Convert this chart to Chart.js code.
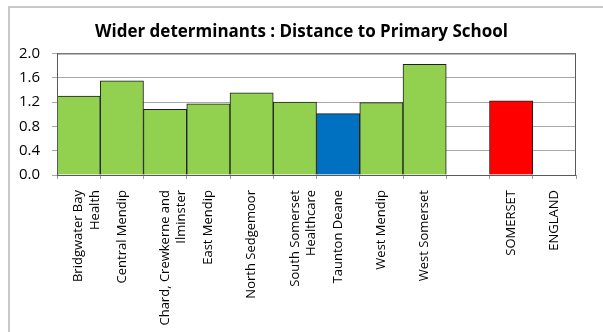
<!DOCTYPE html>
<html>
<head>
<meta charset="utf-8">
<script src="https://cdn.jsdelivr.net/npm/chart.js@4.4.0/dist/chart.umd.min.js"></script>
<style>
    html, body { margin: 0; padding: 0; background: #fff; }
    .frame {
        position: absolute;
        left: 8px;
        top: 6px;
        width: 620px;
        height: 340px;
        border-left: 2px solid #c8c8c8;
        border-top: 2px solid #c8c8c8;
    }
    .wrap { position: absolute; left: 0; top: 0; width: 603px; height: 332px; }
</style>
</head>
<body>
<div class="frame"></div>
<div class="wrap"><canvas id="schoolChart" width="603" height="332"></canvas></div>
<script>
// Localities (multi-line names wrap like the axis labels), blank slot, then county and national
const areas = [
    ['Bridgwater Bay', 'Health'],
    'Central Mendip',
    ['Chard, Crewkerne and', 'Ilminster'],
    'East Mendip',
    'North Sedgemoor',
    ['South Somerset', 'Healthcare'],
    'Taunton Deane',
    'West Mendip',
    'West Somerset',
    '',
    'SOMERSET',
    'ENGLAND'
];
const distance = [1.30, 1.55, 1.08, 1.17, 1.35, 1.20, 1.01, 1.19, 1.82, null, 1.22, null];
const yTicks = [0.0, 0.4, 0.8, 1.2, 1.6, 2.0];

const highlightArea = 'Taunton Deane';
const countyArea = 'SOMERSET';

function barColour(name) {
    if (name === highlightArea) return '#0070C0';
    if (name === countyArea) return '#FF0000';
    return '#92D050';
}

// Box round the plot area
const plotBox = {
    id: 'plotBox',
    afterDatasetsDraw(chart) {
        const a = chart.chartArea;
        const ctx = chart.ctx;
        ctx.save();
        ctx.strokeStyle = '#5a5a5a';
        ctx.lineWidth = 1;
        ctx.strokeRect(a.left + 0.5, a.top + 0.5, a.right - a.left - 1, a.bottom - a.top);
        ctx.restore();
    }
};

const Charts = {
    init() {
        if (typeof Chart === 'undefined') {
            setTimeout(() => this.init(), 100);
            return;
        }
        this.createDistanceChart();
    },

    createDistanceChart() {
        const ctx = document.getElementById('schoolChart');
        const font = "'Open Sans', 'Noto Sans', sans-serif";

        new Chart(ctx, {
            type: 'bar',
            data: {
                labels: areas,
                datasets: [{
                    data: distance,
                    backgroundColor: areas.map(barColour),
                    borderColor: '#1e1e1e',
                    borderWidth: 1,
                    barPercentage: 1.0,
                    categoryPercentage: 1.0
                }]
            },
            options: {
                responsive: false,
                animation: false,
                layout: {
                    padding: 0
                },
                plugins: {
                    legend: { display: false },
                    tooltip: { enabled: false },
                    title: {
                        display: true,
                        text: 'Wider determinants : Distance to Primary School',
                        color: '#000',
                        font: { family: font, size: 17, weight: 'bold', lineHeight: 1.2 },
                        padding: { top: 22, bottom: 11 }
                    }
                },
                scales: {
                    x: {
                        grid: {
                            offset: true,
                            drawOnChartArea: false,
                            color: '#9a9a9a',
                            tickLength: 4
                        },
                        border: { color: '#8a8a8a' },
                        ticks: {
                            autoSkip: false,
                            minRotation: 90,
                            maxRotation: 90,
                            padding: 11,
                            color: '#000',
                            font: { family: font, size: 13, lineHeight: 1.28 }
                        },
                        afterFit(scale) {
                            scale.height = 157;
                        }
                    },
                    y: {
                        min: 0,
                        max: 2.0,
                        afterBuildTicks(scale) {
                            scale.ticks = yTicks.map(v => ({ value: v }));
                        },
                        grid: {
                            color: '#a8a8a8',
                            tickLength: 5
                        },
                        border: { color: '#5a5a5a' },
                        ticks: {
                            padding: 12,
                            color: '#000',
                            font: { family: font, size: 15 },
                            callback: v => v.toFixed(1)
                        },
                        afterFit(scale) {
                            scale.width = 57;
                        }
                    },
                    // empty right-hand axis keeps the margin beside the plot
                    spacer: {
                        type: 'linear',
                        position: 'right',
                        grid: { display: false },
                        border: { display: false },
                        ticks: { display: false },
                        afterFit(scale) {
                            scale.width = 27;
                        }
                    }
                }
            },
            plugins: [plotBox]
        });
    }
};

Charts.init();
</script>
</body>
</html>
